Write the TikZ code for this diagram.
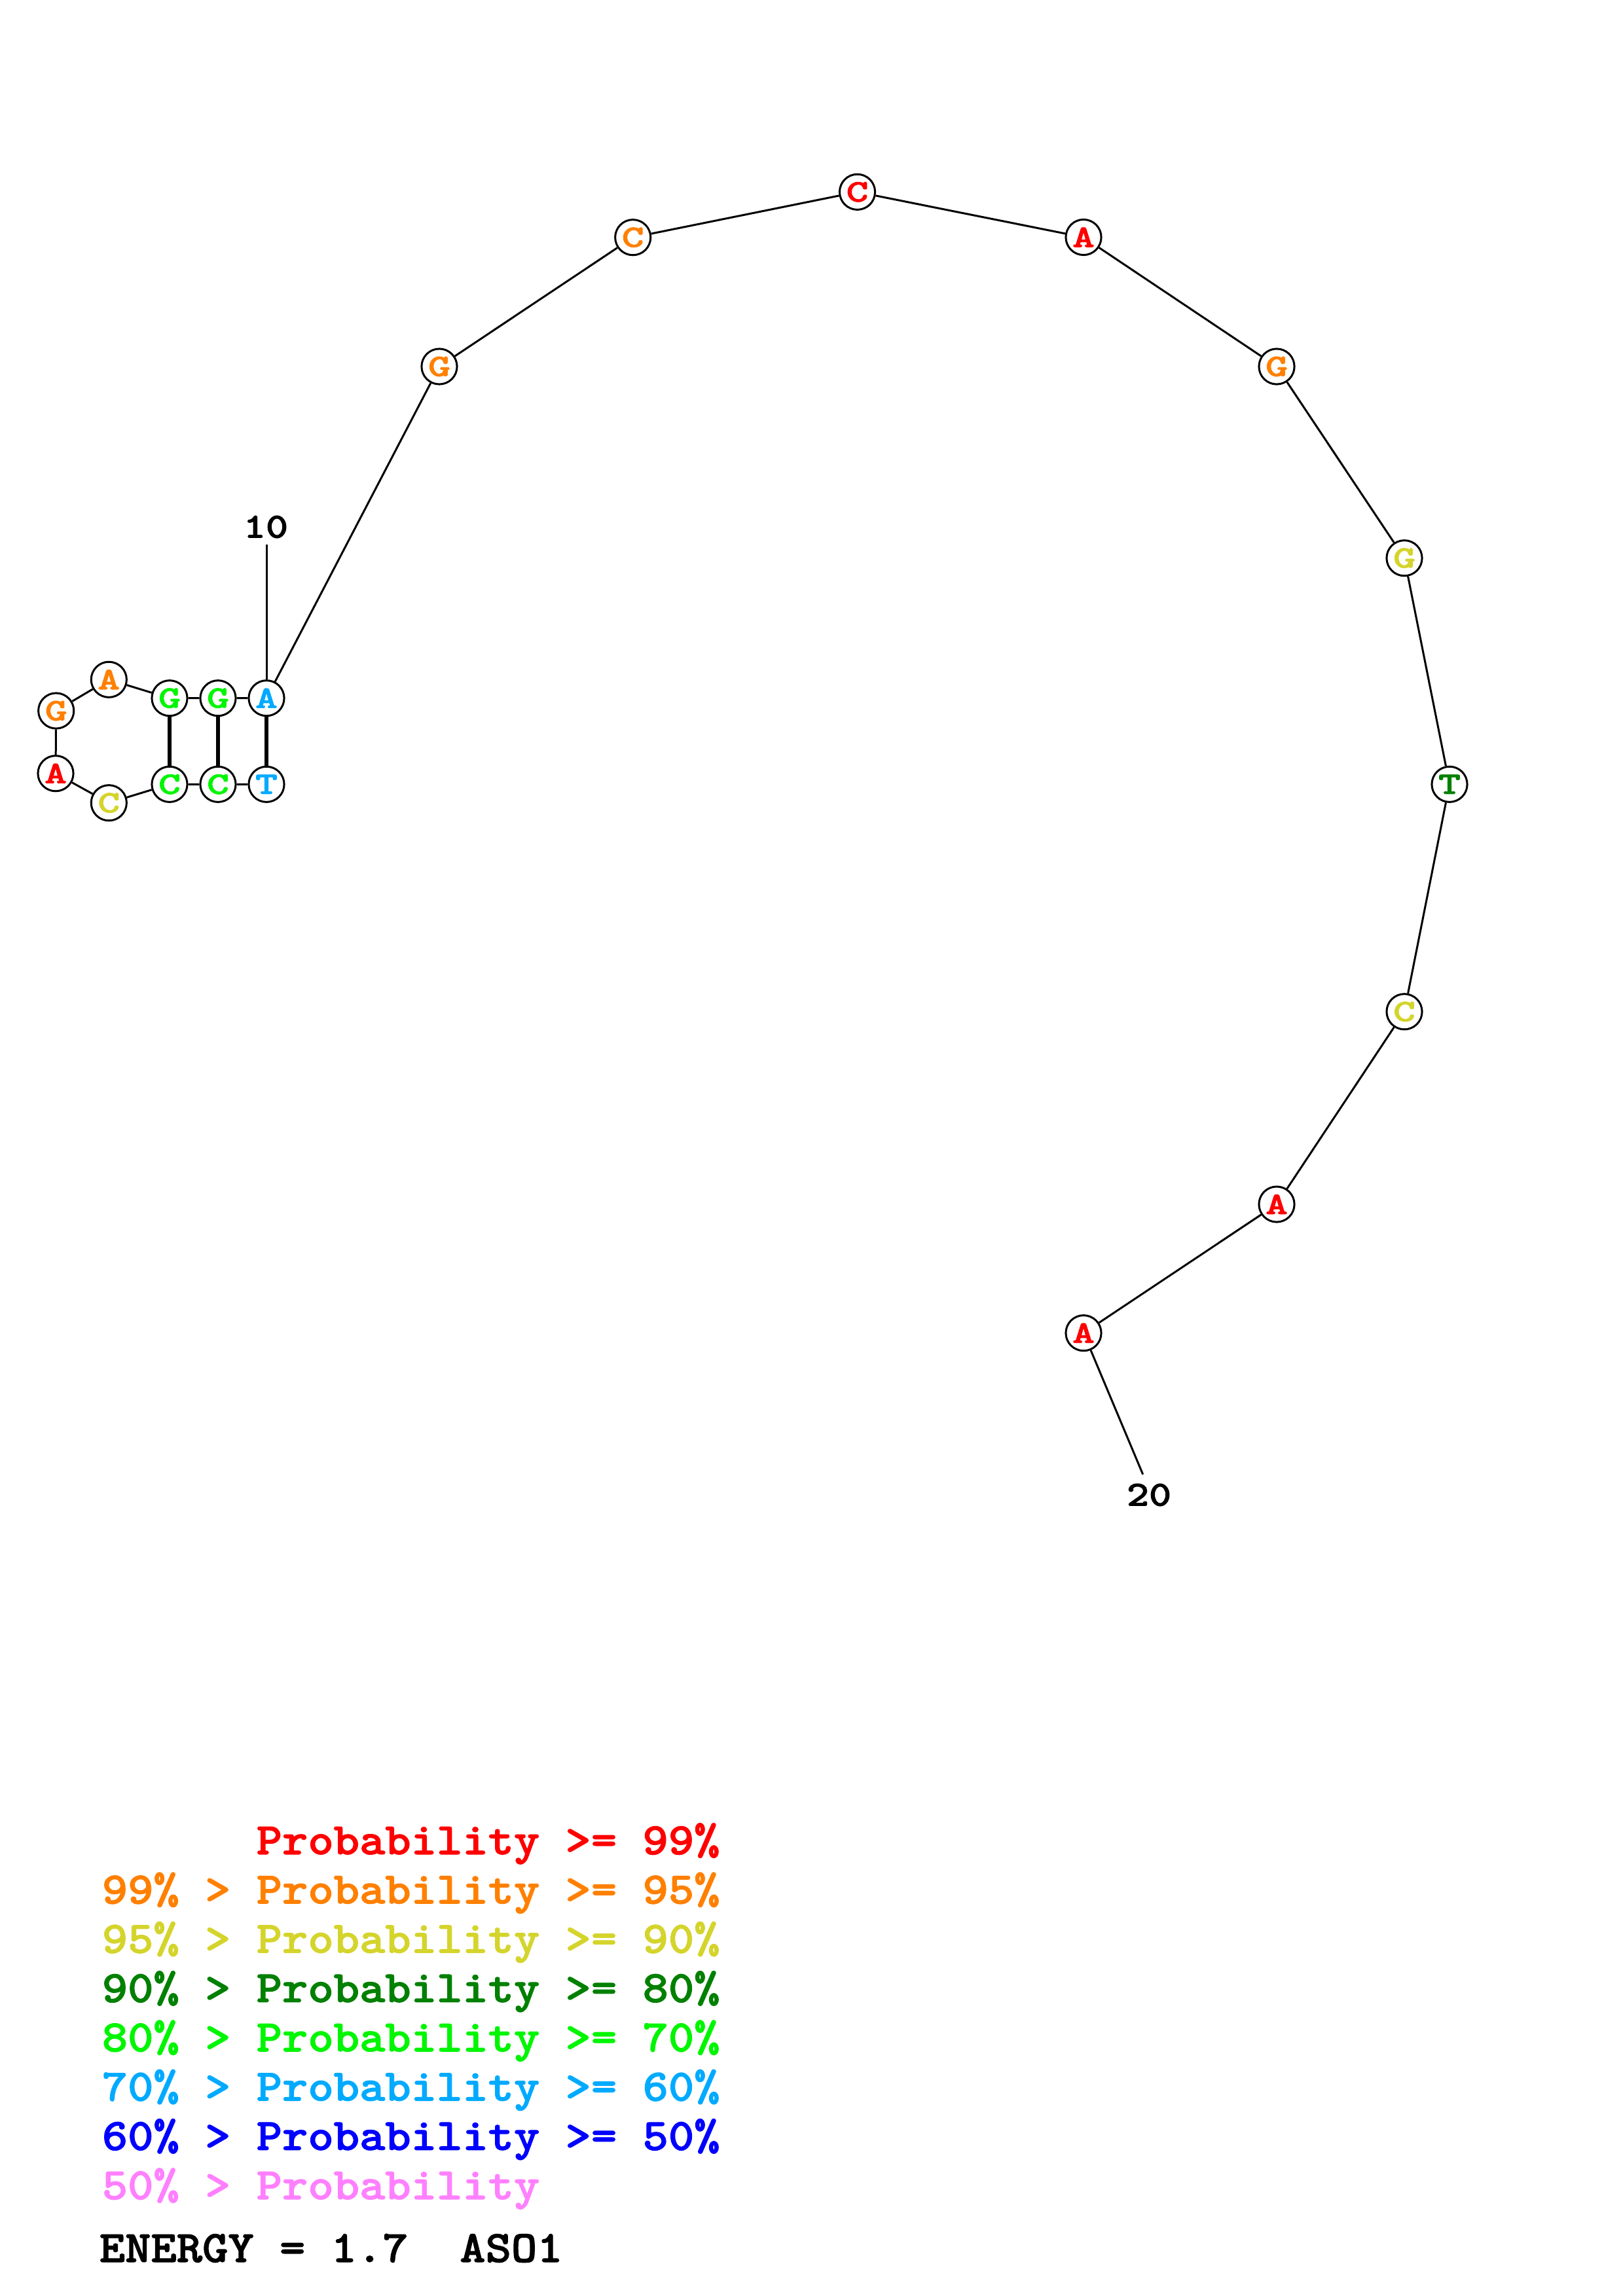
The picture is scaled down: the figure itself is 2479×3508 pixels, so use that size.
\documentclass[tikz,border=0pt]{standalone}
\usepackage{graphicx}
\usepackage{fontspec}
\newfontfamily\courb{lmmonolt10-bold.otf}[FakeBold=1.5]
\definecolor{pRed}{RGB}{255,0,0}
\definecolor{pOrange}{RGB}{255,128,0}
\definecolor{pYellow}{RGB}{212,212,44}
\definecolor{pDark}{RGB}{0,128,0}
\definecolor{pGreen}{RGB}{0,245,0}
\definecolor{pLight}{RGB}{0,170,255}
\definecolor{pBlue}{RGB}{0,0,255}
\definecolor{pPink}{RGB}{255,128,255}
\newcommand\nucglyph[1]{\scalebox{1.35}[1]{#1}}
\newcommand\labglyph[1]{\scalebox{1.2}[1]{#1}}
\newcommand\legglyph[1]{\scalebox{1.09}[1]{#1}}
\tikzset{
  nuc/.style={circle, draw=black, line width=0.72pt, minimum size=13pt, inner sep=0pt, fill=white,
    font=\fontsize{11.5}{11.5}\selectfont\courb},
  bb/.style={draw=black, line width=0.72pt},
  pairline/.style={draw=black, line width=1.6pt},
  numlab/.style={inner sep=0pt, font=\fontsize{13}{13}\selectfont\courb},
  legline/.style={anchor=base west, inner sep=0pt, font=\fontsize{16.5}{16.5}\selectfont\courb}
}
\begin{document}
\begin{tikzpicture}[x=0.24013pt, y=-0.24013pt]
\useasboundingbox (0,0) rectangle (2479,3508);
% nucleotides
\node[nuc, text=pLight]  (n1)  at (407,1198.3)  {\nucglyph{T}};
\node[nuc, text=pGreen]  (n2)  at (333,1198.3)  {\nucglyph{C}};
\node[nuc, text=pGreen]  (n3)  at (259,1198.3)  {\nucglyph{C}};
\node[nuc, text=pYellow] (n4)  at (166.3,1226.7) {\nucglyph{C}};
\node[nuc, text=pRed]    (n5)  at (85,1181.7)   {\nucglyph{A}};
\node[nuc, text=pOrange] (n6)  at (85.7,1086)   {\nucglyph{G}};
\node[nuc, text=pOrange] (n7)  at (166.3,1038.3) {\nucglyph{A}};
\node[nuc, text=pGreen]  (n8)  at (259,1066.7)  {\nucglyph{G}};
\node[nuc, text=pGreen]  (n9)  at (333,1066.7)  {\nucglyph{G}};
\node[nuc, text=pLight]  (n10) at (407,1066.7)  {\nucglyph{A}};
\node[nuc, text=pOrange] (n11) at (671,560)     {\nucglyph{G}};
\node[nuc, text=pOrange] (n12) at (966.7,362.7) {\nucglyph{C}};
\node[nuc, text=pRed]    (n13) at (1309.5,293.3) {\nucglyph{C}};
\node[nuc, text=pRed]    (n14) at (1655,362.5)  {\nucglyph{A}};
\node[nuc, text=pOrange] (n15) at (1950,560)    {\nucglyph{G}};
\node[nuc, text=pYellow] (n16) at (2145,852.7)  {\nucglyph{G}};
\node[nuc, text=pDark]   (n17) at (2214,1198.3) {\nucglyph{T}};
\node[nuc, text=pYellow] (n18) at (2145,1545.7) {\nucglyph{C}};
\node[nuc, text=pRed]    (n19) at (1950,1840)   {\nucglyph{A}};
\node[nuc, text=pRed]    (n20) at (1655,2036.7) {\nucglyph{A}};
% backbone
\draw[bb] (n1) -- (n2) -- (n3) -- (n4) -- (n5) -- (n6) -- (n7) -- (n8) -- (n9) -- (n10) -- (n11) -- (n12) -- (n13) -- (n14) -- (n15) -- (n16) -- (n17) -- (n18) -- (n19) -- (n20);
% base pairs
\draw[pairline] (n1) -- (n10);
\draw[pairline] (n2) -- (n9);
\draw[pairline] (n3) -- (n8);
% numbering
\node[numlab] (t10) at (406,805) {\labglyph{10}};
\coordinate (c10) at (407,831.7);
\draw[bb] (n10) -- (c10);
\node[numlab] (t20) at (1755,2284) {\labglyph{20}};
\coordinate (c20) at (1745.7,2252.7);
\draw[bb] (n20) -- (c20);
% legend
\node[legline, text=pRed]    (l1) at (155,2833)   {\legglyph{\phantom{99\%\ >\ }Probability\ >=\ 99\%}};
\node[legline, text=pOrange] (l2) at (155,2908.3) {\legglyph{99\%\ >\ Probability\ >=\ 95\%}};
\node[legline, text=pYellow] (l3) at (155,2983.6) {\legglyph{95\%\ >\ Probability\ >=\ 90\%}};
\node[legline, text=pDark]   (l4) at (155,3058.9) {\legglyph{90\%\ >\ Probability\ >=\ 80\%}};
\node[legline, text=pGreen]  (l5) at (155,3134.2) {\legglyph{80\%\ >\ Probability\ >=\ 70\%}};
\node[legline, text=pLight]  (l6) at (155,3209.5) {\legglyph{70\%\ >\ Probability\ >=\ 60\%}};
\node[legline, text=pBlue]   (l7) at (155,3284.8) {\legglyph{60\%\ >\ Probability\ >=\ 50\%}};
\node[legline, text=pPink]   (l8) at (155,3360.1) {\legglyph{50\%\ >\ Probability}};
\node[legline, text=black]   (en) at (151,3456)   {\legglyph{ENERGY\ =\ 1.7\ \ ASO1}};
\end{tikzpicture}
\end{document}
